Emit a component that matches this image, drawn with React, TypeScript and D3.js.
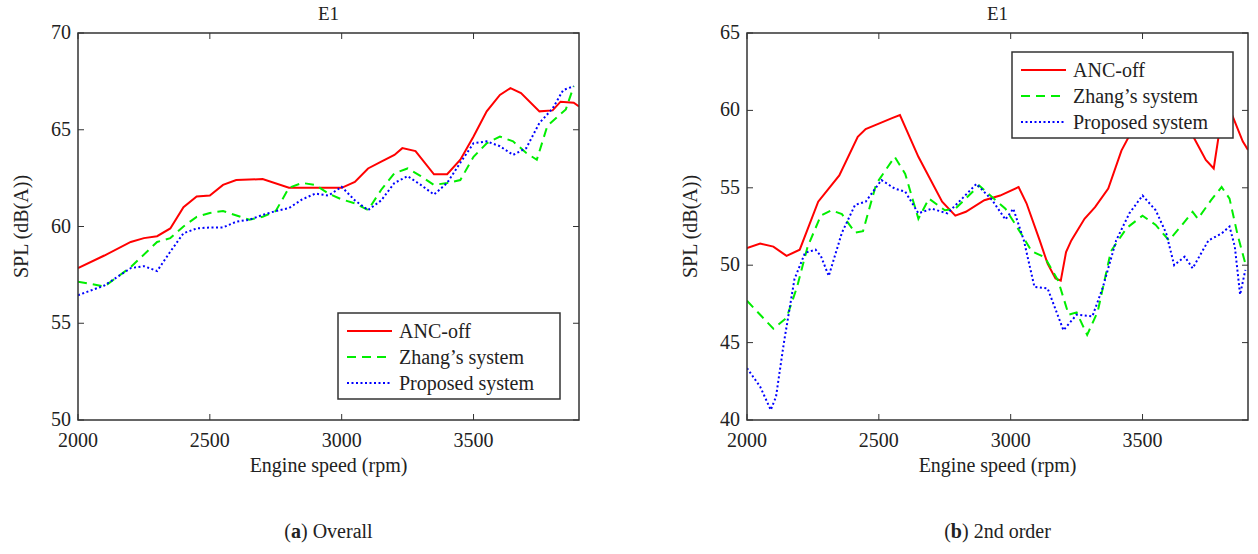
import * as d3 from "d3";

// ---- data ----
const xTicks = [2000, 2500, 3000, 3500];
const xDomain = [2000, 3900];
const seriesNames = ["ANC-off", "Zhang\u2019s system", "Proposed system"];

// (a) Overall
const aRpmRed = [2000, 2100, 2200, 2250, 2300, 2350, 2400, 2450, 2500, 2550, 2600, 2700, 2800, 2900, 3000, 3050, 3100, 3150, 3200, 3230, 3280, 3350, 3400, 3450, 3500, 3550, 3600, 3640, 3680, 3750, 3800, 3830, 3880, 3900];
const aRed = [57.85, 58.5, 59.2, 59.4, 59.5, 59.9, 61.0, 61.55, 61.6, 62.15, 62.4, 62.45, 62.0, 62.0, 62.0, 62.3, 63.0, 63.35, 63.7, 64.05, 63.9, 62.7, 62.7, 63.45, 64.65, 65.95, 66.8, 67.15, 66.9, 65.95, 66.0, 66.45, 66.4, 66.2];
const aRpmGreen = [2000, 2100, 2200, 2300, 2350, 2400, 2450, 2500, 2550, 2650, 2700, 2750, 2800, 2850, 2900, 2950, 3000, 3050, 3100, 3150, 3200, 3250, 3300, 3350, 3400, 3450, 3500, 3550, 3600, 3650, 3700, 3740, 3780, 3850, 3880];
const aGreen = [57.15, 56.9, 57.9, 59.2, 59.4, 60.0, 60.5, 60.7, 60.8, 60.35, 60.5, 60.8, 62.0, 62.25, 62.15, 61.7, 61.4, 61.2, 60.85, 61.9, 62.75, 63.0, 62.6, 62.15, 62.25, 62.4, 63.6, 64.3, 64.65, 64.4, 63.8, 63.45, 65.2, 66.05, 67.25];
const aRpmBlue = [2000, 2100, 2200, 2250, 2300, 2350, 2400, 2450, 2500, 2550, 2600, 2650, 2700, 2750, 2800, 2850, 2900, 2950, 3000, 3050, 3100, 3150, 3200, 3250, 3300, 3350, 3400, 3450, 3500, 3550, 3600, 3650, 3700, 3750, 3800, 3840, 3880];
const aBlue = [56.45, 56.95, 57.85, 57.95, 57.7, 58.7, 59.65, 59.9, 59.95, 59.95, 60.25, 60.35, 60.6, 60.8, 60.95, 61.4, 61.7, 61.6, 62.05, 61.35, 60.85, 61.35, 62.25, 62.6, 62.15, 61.65, 62.25, 63.3, 64.3, 64.4, 64.15, 63.7, 64.05, 65.35, 66.1, 67.05, 67.25];

// (b) 2nd order
const bRpmRed = [2000, 2050, 2100, 2150, 2200, 2270, 2350, 2420, 2450, 2500, 2550, 2580, 2650, 2740, 2790, 2830, 2900, 2960, 3030, 3060, 3110, 3140, 3170, 3190, 3210, 3230, 3280, 3320, 3370, 3420, 3470, 3530, 3570, 3620, 3680, 3740, 3770, 3800, 3840, 3880, 3900];
const bRed = [51.1, 51.4, 51.2, 50.6, 51.0, 54.1, 55.8, 58.3, 58.8, 59.15, 59.5, 59.7, 57.0, 54.1, 53.2, 53.45, 54.2, 54.5, 55.05, 54.0, 51.6, 50.1, 49.15, 49.0, 50.85, 51.6, 53.0, 53.75, 54.95, 57.4, 59.0, 60.5, 61.0, 60.8, 58.7, 56.8, 56.25, 59.6, 59.7, 58.0, 57.45];
const bRpmGreen = [2000, 2050, 2100, 2150, 2190, 2230, 2280, 2320, 2360, 2410, 2440, 2490, 2560, 2600, 2650, 2690, 2750, 2790, 2880, 2980, 3030, 3080, 3130, 3180, 3220, 3250, 3290, 3330, 3380, 3440, 3500, 3550, 3600, 3650, 3690, 3710, 3760, 3800, 3830, 3860, 3890];
const bGreen = [47.7, 46.8, 45.9, 46.6, 48.6, 51.2, 53.2, 53.55, 53.3, 52.1, 52.2, 55.25, 57.0, 55.9, 53.0, 54.3, 53.55, 53.65, 55.15, 53.65, 52.3, 50.9, 50.5, 49.0, 46.8, 46.95, 45.5, 47.0, 50.9, 52.4, 53.2, 52.6, 51.6, 52.6, 53.45, 53.0, 54.2, 55.05, 54.3, 52.0, 50.1];
const bRpmBlue = [2000, 2050, 2090, 2110, 2140, 2180, 2220, 2260, 2280, 2310, 2360, 2410, 2450, 2510, 2560, 2600, 2650, 2700, 2760, 2810, 2870, 2930, 2980, 3010, 3050, 3090, 3140, 3200, 3250, 3310, 3350, 3400, 3450, 3500, 3550, 3590, 3620, 3660, 3690, 3750, 3800, 3830, 3850, 3870, 3890];
const bBlue = [43.35, 42.15, 40.65, 41.5, 45.0, 49.1, 50.8, 51.0, 50.6, 49.3, 52.1, 53.9, 54.1, 55.5, 54.95, 54.75, 53.35, 53.65, 53.35, 54.2, 55.25, 54.2, 52.95, 53.65, 51.6, 48.6, 48.5, 45.8, 46.8, 46.7, 48.6, 51.6, 53.35, 54.5, 53.55, 52.05, 50.0, 50.55, 49.8, 51.6, 52.05, 52.5, 51.2, 48.1, 49.7];

const colors = ["#ff0000", "#00ee00", "#0000ff"];
const dashes = ["none", "9,6", "2,2.5"];

const font = "'Liberation Serif', 'Times New Roman', serif";

type Series = { rpm: number[]; val: number[] };

function Panel({ left, yDomain, yTicks, series, legend, caption }: {
  left: number; yDomain: number[]; yTicks: number[]; series: Series[];
  legend: { x: number; y: number; w: number }; caption: [string, string];
}) {
  const top = 33, bottom = 420, width = 501;
  const x = d3.scaleLinear().domain(xDomain).range([left, left + width]);
  const y = d3.scaleLinear().domain(yDomain).range([bottom, top]);
  const tl = 6;
  return (
    <g fontFamily={font} fill="#222">
      <defs>
        <clipPath id={`clip${left}`}>
          <rect x={left} y={top} width={width} height={bottom - top} />
        </clipPath>
      </defs>
      <text x={left + width / 2} y={20} textAnchor="middle" fontSize={19}>E1</text>
      <g clipPath={`url(#clip${left})`}>
        {series.map((s, i) => {
          const line = d3.line<number>().x((_, j) => x(s.rpm[j])).y((v) => y(v));
          return (
            <path key={i} d={line(s.val) || ""} fill="none" stroke={colors[i]}
              strokeWidth={2} strokeDasharray={dashes[i]} />
          );
        })}
      </g>
      <rect x={left} y={top} width={width} height={bottom - top} fill="none" stroke="#333" strokeWidth={1.5} />
      {xTicks.map((t) => (
        <g key={t}>
          <line x1={x(t)} x2={x(t)} y1={bottom} y2={bottom - tl} stroke="#333" />
          <line x1={x(t)} x2={x(t)} y1={top} y2={top + tl} stroke="#333" />
          <text x={x(t)} y={bottom + 27} textAnchor="middle" fontSize={20}>{t}</text>
        </g>
      ))}
      {yTicks.map((t) => (
        <g key={t}>
          <line x1={left} x2={left + tl} y1={y(t)} y2={y(t)} stroke="#333" />
          <line x1={left + width - tl} x2={left + width} y1={y(t)} y2={y(t)} stroke="#333" />
          <text x={left - 7} y={y(t) + 6} textAnchor="end" fontSize={20}>{t}</text>
        </g>
      ))}
      <text x={left + width / 2} y={472} textAnchor="middle" fontSize={20}>Engine speed (rpm)</text>
      <text transform={`translate(${left - 50},${(top + bottom) / 2}) rotate(-90)`} textAnchor="middle" fontSize={20}>SPL (dB(A))</text>
      <g>
        <rect x={legend.x} y={legend.y} width={legend.w} height={86} fill="#fff" stroke="#333" strokeWidth={1.5} />
        {seriesNames.map((n, i) => (
          <g key={n}>
            <line x1={legend.x + 9} x2={legend.x + 54} y1={legend.y + 18 + i * 26} y2={legend.y + 18 + i * 26}
              stroke={colors[i]} strokeWidth={2} strokeDasharray={dashes[i]} />
            <text x={legend.x + 61} y={legend.y + 25 + i * 26} fontSize={20}>{n}</text>
          </g>
        ))}
      </g>
      <text x={left + width / 2} y={538} textAnchor="middle" fontSize={20}>
        (<tspan fontWeight="bold">{caption[0]}</tspan>) {caption[1]}
      </text>
    </g>
  );
}

export default function App() {
  return (
    <svg width={1258} height={554} style={{ position: "absolute", left: 0, top: 0, background: "#fff" }}>
      <Panel left={78} yDomain={[50, 70]} yTicks={[50, 55, 60, 65, 70]}
        series={[{ rpm: aRpmRed, val: aRed }, { rpm: aRpmGreen, val: aGreen }, { rpm: aRpmBlue, val: aBlue }]}
        legend={{ x: 338, y: 313, w: 222 }} caption={["a", "Overall"]} />
      <Panel left={747} yDomain={[40, 65]} yTicks={[40, 45, 50, 55, 60, 65]}
        series={[{ rpm: bRpmRed, val: bRed }, { rpm: bRpmGreen, val: bGreen }, { rpm: bRpmBlue, val: bBlue }]}
        legend={{ x: 1012, y: 52, w: 221 }} caption={["b", "2nd order"]} />
    </svg>
  );
}
